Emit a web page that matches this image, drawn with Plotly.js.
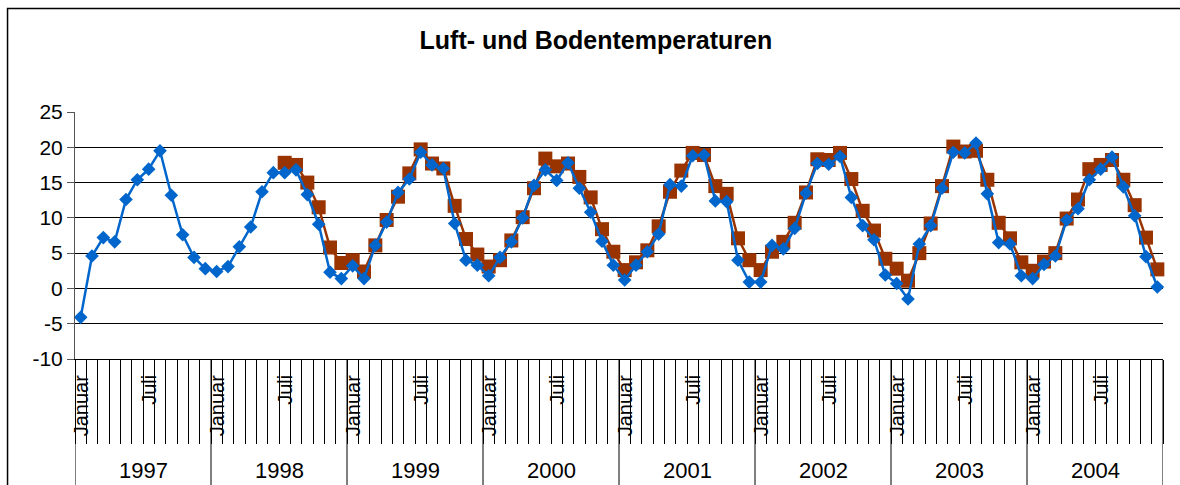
<!DOCTYPE html>
<html>
<head>
<meta charset="utf-8">
<script src="https://cdn.plot.ly/plotly-3.0.1.min.js"></script>
<style>
body { margin: 0; background: #fff; }
#chart { width: 1180px; height: 485px; }
</style>
</head>
<body>
<div id="chart"></div>
<script>
// categories
var years = ["1997", "1998", "1999", "2000", "2001", "2002", "2003", "2004"];
var months = ["Januar", "Februar", "März", "April", "Mai", "Juni",
              "Juli", "August", "September", "Oktober", "November", "Dezember"];
var shownMonths = ["Januar", "Juli"];   // Excel only labels every 6th month

// Lufttemperatur (blue diamonds), Jan 1997 - Dez 2004
var luft = [
  -4.1, 4.6, 7.2, 6.6, 12.6, 15.4, 16.9, 19.5, 13.2, 7.6, 4.4, 2.8,
   2.4, 3.1, 5.9, 8.7, 13.7, 16.4, 16.4, 16.8, 13.3, 9.1, 2.3, 1.4,
   3.2, 1.4, 6.1, 9.4, 13.6, 15.5, 19.3, 17.5, 17.0, 9.2, 4.0, 3.3,
   1.8, 4.4, 6.6, 10.0, 14.6, 16.8, 15.3, 17.8, 14.2, 10.8, 6.7, 3.3,
   1.2, 3.3, 5.2, 7.7, 14.7, 14.5, 18.8, 18.9, 12.4, 12.3, 4.0, 0.9,
   0.9, 6.1, 5.6, 8.5, 13.5, 17.7, 17.6, 18.7, 12.9, 8.9, 6.9, 1.9,
   0.7, -1.5, 6.3, 8.9, 14.2, 19.3, 19.2, 20.6, 13.4, 6.5, 6.3, 1.8,
   1.4, 3.4, 4.6, 9.7, 11.3, 15.4, 16.9, 18.6, 14.4, 10.3, 4.5, 0.2
];

// Bodentemperatur (brown squares), starts Juli 1998
var boden = [
  null, null, null, null, null, null, null, null, null, null, null, null,
  null, null, null, null, null, null, 17.8, 17.5, 15.0, 11.5, 5.8, 3.6,
   4.0, 2.4, 6.1, 9.7, 13.0, 16.3, 19.7, 17.7, 17.0, 11.7, 7.0, 4.8,
   3.1, 4.0, 6.8, 10.1, 14.2, 18.4, 17.3, 17.7, 15.8, 12.9, 8.4, 5.2,
   2.6, 3.7, 5.4, 8.8, 13.7, 16.7, 19.2, 18.9, 14.5, 13.4, 7.1, 4.0,
   2.6, 5.2, 6.6, 9.3, 13.6, 18.3, 18.2, 19.2, 15.5, 11.0, 8.2, 4.2,
   2.8, 1.1, 5.0, 9.2, 14.5, 20.1, 19.4, 19.5, 15.4, 9.3, 7.1, 3.7,
   2.5, 3.8, 5.0, 9.9, 12.6, 16.9, 17.5, 18.2, 15.4, 11.8, 7.2, 2.7
];

var yTicks = [-10, -5, 0, 5, 10, 15, 20, 25];
var yTickLabels = ["-10", "-5", "0", "5", "10", "15", "20", "25"];

var font = "Liberation Sans, Arial, sans-serif";

// one x position per month
var xIdx = luft.map(function(v, i) { return i; });

// month boundaries -> tick lines
var boundaries = [];
for (var b = 0; b <= luft.length; b++) boundaries.push(b - 0.5);

var traceBoden = {
  x: xIdx, y: boden, type: "scatter", mode: "lines+markers", name: "Boden",
  line: {color: "#993300", width: 2.5},
  marker: {symbol: "square", size: 14, color: "#993300"},
  cliponaxis: false
};
var traceLuft = {
  x: xIdx, y: luft, type: "scatter", mode: "lines+markers", name: "Luft",
  line: {color: "#0066CC", width: 2.5},
  marker: {symbol: "diamond", size: 10.5, color: "#0066CC"},
  cliponaxis: false
};

var annotations = [];
var shapes = [];
years.forEach(function(yr, yi) {
  shownMonths.forEach(function(m) {
    annotations.push({
      x: yi * 12 + months.indexOf(m), xref: "x",
      y: -0.057, yref: "paper", yanchor: "top", xanchor: "center",
      text: m, textangle: -90, showarrow: false,
      font: {family: font, size: 20, color: "#000"}
    });
  });
  annotations.push({
    x: yi * 12 + 5.5, xref: "x",
    y: -0.453, yref: "paper", yanchor: "middle",
    text: yr, showarrow: false,
    font: {family: font, size: 22, color: "#000"}
  });
});
// year separators run down to the bottom
for (var s = 0; s <= years.length; s++) {
  shapes.push({
    type: "line", xref: "x", yref: "paper",
    x0: s * 12 - 0.5, x1: s * 12 - 0.5, y0: 0, y1: -0.6,
    line: {color: "#000", width: 1}
  });
}
// chart border
shapes.push({
  type: "rect", xref: "paper", yref: "paper",
  x0: -0.062, x1: 1.05, y0: -0.7, y1: 1.419,
  line: {color: "#000", width: 1.5}
});

var layout = {
  width: 1180, height: 485,
  margin: {l: 75, r: 17, t: 112, b: 126},
  paper_bgcolor: "#fff", plot_bgcolor: "#fff",
  showlegend: false,
  font: {family: font, color: "#000"},
  title: {
    text: "Luft- und Bodentemperaturen",
    font: {family: font, size: 25, color: "#000", weight: "bold"},
    x: 0.505, xref: "container", xanchor: "center",
    y: 0.916, yref: "container", yanchor: "middle"
  },
  xaxis: {
    range: [-0.5, luft.length - 0.5],
    tickmode: "array", tickvals: boundaries,
    showticklabels: false,
    ticks: "outside", ticklen: 84, tickwidth: 1, tickcolor: "#000",
    showgrid: false, zeroline: false,
    showline: true, linecolor: "#000", linewidth: 1
  },
  yaxis: {
    range: [-10, 25],
    tickmode: "array", tickvals: yTicks, ticktext: yTickLabels,
    ticks: "outside", ticklen: 7, tickcolor: "#555",
    tickfont: {family: font, size: 21, color: "#000"},
    showgrid: true, gridcolor: "#000", gridwidth: 1,
    zeroline: false,
    showline: true, linecolor: "#555", linewidth: 1
  },
  annotations: annotations,
  shapes: shapes
};

Plotly.newPlot("chart", [traceBoden, traceLuft], layout, {staticPlot: true});
</script>
</body>
</html>
